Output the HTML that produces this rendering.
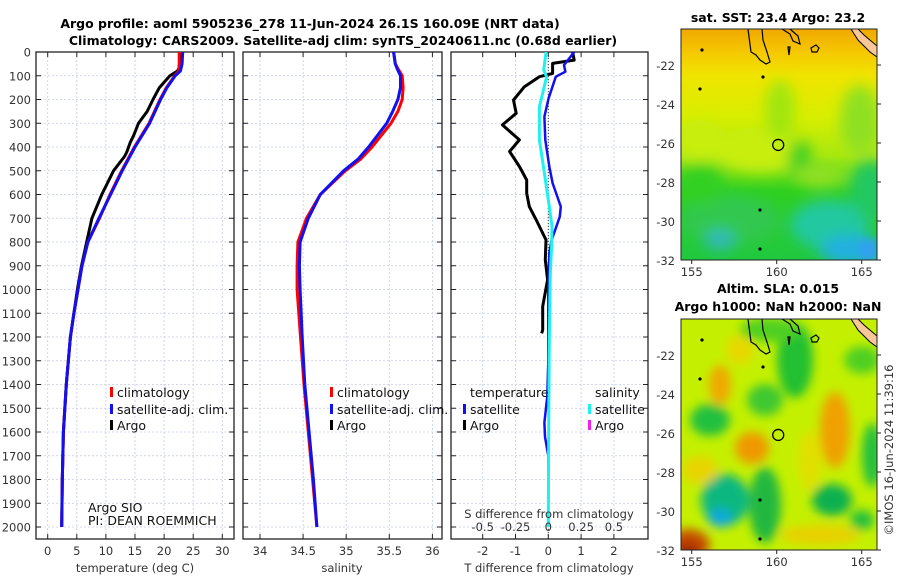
<!DOCTYPE html>
<html><head><meta charset="utf-8">
<style>
body{margin:0;background:#fff;}
svg text{font-family:"DejaVu Sans","Liberation Sans",sans-serif;}
.tk{font-size:11.5px;fill:#333;}
.tt{font-size:12.5px;font-weight:bold;fill:#000;}
.lg{font-size:12.5px;fill:#111;}
</style></head>
<body>
<svg id="fig" width="900" height="580" viewBox="0 0 900 580" xmlns="http://www.w3.org/2000/svg">
<defs>
<clipPath id="c1"><rect x="36" y="52" width="198" height="487"/></clipPath>
<clipPath id="c2"><rect x="243" y="52" width="199" height="487"/></clipPath>
<clipPath id="c3"><rect x="451" y="52" width="197" height="487"/></clipPath>
<clipPath id="cm1"><rect x="681" y="29" width="196" height="231"/></clipPath>
<clipPath id="cm2"><rect x="681" y="319" width="196" height="231"/></clipPath>
<filter id="bl" x="-50%" y="-50%" width="200%" height="200%"><feGaussianBlur stdDeviation="7"/></filter>
<filter id="bl3" x="-50%" y="-50%" width="200%" height="200%"><feGaussianBlur stdDeviation="5"/></filter>
<filter id="bl2" x="-50%" y="-50%" width="200%" height="200%"><feGaussianBlur stdDeviation="4"/></filter>
<linearGradient id="sstg" x1="0" y1="0" x2="0" y2="1">
<stop offset="0" stop-color="#f0a800"/><stop offset="0.1" stop-color="#f5c800"/><stop offset="0.2" stop-color="#f0e400"/>
<stop offset="0.38" stop-color="#d8ee00"/><stop offset="0.55" stop-color="#a8e810"/><stop offset="0.7" stop-color="#30d020"/><stop offset="1" stop-color="#20c840"/>
</linearGradient>
</defs>
<g id="titles">
<text class="tt" x="310" y="28" text-anchor="middle">Argo profile: aoml 5905236_278 11-Jun-2024 26.1S 160.09E (NRT data)</text>
<text class="tt" x="343" y="45" text-anchor="middle">Climatology: CARS2009. Satellite-adj clim: synTS_20240611.nc (0.68d earlier)</text>
</g>
<g id="panels"></g>
<g id="maps"></g>
<text x="893" y="450" class="tk" font-size="12.5" transform="rotate(-90 893 450)" text-anchor="middle">©IMOS 16-Jun-2024 11:39:16</text>
</svg>
<script>
// ---------- data ----------
const depthTicks=[0,100,200,300,400,500,600,700,800,900,1000,1100,1200,1300,1400,1500,1600,1700,1800,1900,2000];
const tempTicks=[0,5,10,15,20,25,30];
const salTicks=[34,34.5,35,35.5,36];
const tdTicks=[-2,-1,0,1,2];
const sdTickLabels=["-0.5","-0.25","0","0.25","0.5"];
const tDepth=[0,50,80,100,150,200,300,400,500,600,700,800,900,1000,1100,1200,1400,1600,1800,2000];
const tClim=[22.6,22.6,22.5,21.8,20.4,19.3,17.4,14.9,12.7,10.7,8.9,6.9,5.9,5.2,4.5,3.9,3.2,2.7,2.5,2.4];
const tSat=[23.2,23.1,22.8,21.9,20.5,19.4,17.5,15.0,12.8,10.8,8.8,6.9,5.9,5.2,4.5,3.9,3.2,2.7,2.5,2.4];
const argoDepth=[5,50,80,100,150,200,250,300,350,380,420,440,500,600,700,800,900,1000,1200,1400,1600,1800,2000];
const argoT=[23.0,22.9,22.3,21.0,19.2,18.1,17.1,15.6,14.8,14.2,13.6,13.2,11.3,9.3,7.6,6.7,5.8,5.1,3.9,3.2,2.7,2.5,2.4];
const sDepth=[0,50,70,100,150,200,250,300,400,450,500,600,700,800,900,1000,1200,1400,1600,1800,2000];
const sClim=[35.55,35.57,35.6,35.65,35.66,35.65,35.6,35.52,35.30,35.17,34.99,34.70,34.54,34.44,34.43,34.43,34.47,34.51,34.56,34.61,34.66];
const sSat=[35.55,35.57,35.59,35.63,35.63,35.6,35.54,35.47,35.26,35.14,34.97,34.70,34.56,34.465,34.457,34.465,34.49,34.52,34.57,34.62,34.66];
const dtDepth=[0,55,83,104,195,272,370,482,552,651,693,749,791,847,1000,1300,1450,1560,1620,1700,1800,2000];
const dtSat=[0.79,0.48,0.52,0.23,0.01,-0.12,-0.09,0.03,0.13,0.38,0.35,0.21,0.10,0.03,0.0,0.0,-0.03,-0.12,-0.1,0.0,0.0,0.0];
const dtArgoDepth=[0,34,48,90,104,146,202,258,307,370,419,482,539,595,651,707,791,875,959,1071,1170,1185];
const dtArgo=[0.74,0.79,0.13,0.13,-0.27,-0.73,-1.06,-0.98,-1.40,-0.88,-1.18,-0.88,-0.66,-0.66,-0.58,-0.37,-0.07,-0.09,-0.02,-0.17,-0.17,-0.2];
const dsDepth=[0,76,104,231,370,510,651,735,819,931,1211,1500,2000];
const dsSat=[-0.017,-0.035,-0.013,-0.068,-0.068,-0.03,0.008,0.028,0.025,0.015,0.008,0.004,0.0];
const latTicks=[-22,-24,-26,-28,-30,-32];
const lonTicks=[155,160,165];
const floatLon=160.09, floatLat=-26.1;

// ---------- scales ----------
const yD=d=>52+d*0.2375;
const xT=t=>47.7+t*5.82;
const xS=s=>260+(s-34)*86.2;
const xDT=d=>548.3+d*32.8;
const xDS=d=>548.3+d*131.2;
const NS='http://www.w3.org/2000/svg';
function mk(tag,attrs,parent){const e=document.createElementNS(NS,tag);for(const k in attrs)e.setAttribute(k,attrs[k]);parent.appendChild(e);return e;}
const panels=document.getElementById('panels');

function panel(x0,x1,name,xf,ticks,labels,clip){
  const g=mk('g',{},panels);
  
  
  mk('rect',{x:x0,y:52,width:x1-x0,height:487,fill:'#fff'},g);
  const grid=mk('g',{stroke:'#c4cbe8','stroke-width':0.8,'stroke-dasharray':'2,2'},g);
  
  
  depthTicks.forEach(d=>{mk('line',{x1:x0,x2:x1,y1:yD(d),y2:yD(d)},grid);
    mk('line',{x1:x0,x2:x0+5,y1:yD(d),y2:yD(d),stroke:'#222','stroke-dasharray':'none'},g);
    mk('line',{x1:x1-5,x2:x1,y1:yD(d),y2:yD(d),stroke:'#222','stroke-dasharray':'none'},g);});
  ticks.forEach((t,i)=>{const x=xf(t);mk('line',{x1:x,x2:x,y1:52,y2:539},grid);
    mk('line',{x1:x,x2:x,y1:539,y2:534,stroke:'#222'},g);mk('line',{x1:x,x2:x,y1:52,y2:57,stroke:'#222'},g);
    const tx=mk('text',{x:x,y:555,'text-anchor':'middle',class:'tk'},g);tx.textContent=labels[i];
    
    });
  mk('rect',{x:x0,y:52,width:x1-x0,height:487,fill:'none',stroke:'#222','stroke-width':1.3},g);
  return g;
}
function line(g,xs,ds,xf,color,w,clip,name){
  const pts=xs.map((v,i)=>xf(v).toFixed(1)+','+yD(ds[i]).toFixed(1)).join(' ');
  const p=mk('polyline',{points:pts,fill:'none',stroke:color,'stroke-width':w,'stroke-linejoin':'round','clip-path':'url(#'+clip+')'},g);
  
  
}
// panel 1
const g1=panel(36,234,'temperature-panel',xT,tempTicks,tempTicks.map(String),'c1');
depthTicks.forEach(d=>{const t=mk('text',{x:31,y:yD(d)+4.5,'text-anchor':'end',class:'tk'},g1);t.textContent=d;
  
  });
line(g1,argoT,argoDepth,xT,'#000',3,'c1','argo-temperature-line');
line(g1,tClim,tDepth,xT,'#f00',3,'c1','climatology-temperature-line');
line(g1,tSat,tDepth,xT,'#1010f0',3,'c1','satellite-temperature-line');
// panel 2
const g2=panel(243,442,'salinity-panel',xS,salTicks,["34","34.5","35","35.5","36"],'c2');
line(g2,sClim,sDepth,xS,'#f00',3,'c2','climatology-salinity-line');
line(g2,sSat,sDepth,xS,'#1010f0',3,'c2','satellite-salinity-line');
// panel 3
const g3=panel(451,648,'difference-panel',xDT,tdTicks,tdTicks.map(String),'c3');
mk('line',{x1:xDT(0),x2:xDT(0),y1:52,y2:539,stroke:'#333','stroke-width':1,'stroke-dasharray':'1,2'},g3);
line(g3,dtArgo,dtArgoDepth,xDT,'#000',3,'c3','argo-temperature-difference-line');
line(g3,dtSat,dtDepth,xDT,'#1010f0',2.5,'c3','satellite-temperature-difference-line');
line(g3,dsSat,dsDepth,xDS,'#20f0f0',3,'c3','satellite-salinity-difference-line');
sdTickLabels.forEach((l,i)=>{const v=[-0.5,-0.25,0,0.25,0.5][i];const t=mk('text',{x:xDS(v),y:531,'text-anchor':'middle',class:'tk'},g3);t.textContent=l;
  
  });
function txt(g,x,y,s,cls,name,anchor){const t=mk('text',{x:x,y:y,class:cls,'text-anchor':anchor||'start'},g);t.textContent=s;
  
  return t;}
txt(g3,549,518,'S difference from climatology','tk','s-difference-axis-title','middle').setAttribute('font-size','13');
txt(panels,135,572,'temperature (deg C)','tk','temperature-axis-title','middle').setAttribute('font-size','13.5');
txt(panels,342,572,'salinity','tk','salinity-axis-title','middle').setAttribute('font-size','13.5');
txt(panels,549,572,'T difference from climatology','tk','t-difference-axis-title','middle').setAttribute('font-size','13.5');
// legends
function leg(g,x,y,color,label,name){mk('rect',{x:x,y:y-10,width:3,height:10,fill:color},g);
  const t=txt(g,x+7,y,label,'lg',name);}
leg(g1,110,397,'#f00','climatology','legend-climatology');
leg(g1,110,414,'#1010f0','satellite-adj. clim.','legend-satellite-adj');
leg(g1,110,430,'#000','Argo','legend-argo');
leg(g2,330,397,'#f00','climatology','legend-climatology-s');
leg(g2,330,414,'#1010f0','satellite-adj. clim.','legend-satellite-adj-s');
leg(g2,330,430,'#000','Argo','legend-argo-s');
txt(g3,470,397,'temperature','lg','legend-temperature-header');
leg(g3,463,414,'#1010f0','satellite','legend-t-satellite');
leg(g3,463,430,'#000','Argo','legend-t-argo');
txt(g3,595,397,'salinity','lg','legend-salinity-header');
leg(g3,588,414,'#20f0f0','satellite','legend-s-satellite');
leg(g3,588,430,'#f020f0','Argo','legend-s-argo');
txt(g1,88,512,'Argo SIO','lg','argo-institution').setAttribute('font-size','10.5');
txt(g1,88,525,'PI: DEAN ROEMMICH','lg','argo-pi').setAttribute('font-size','10.5');

// ---------- maps ----------
const maps=document.getElementById('maps');
const xLon=l=>691.7+(l-155)*17;
function mapFrame(top,name){
  const g=mk('g',{},maps);
  
  
  const latY=l=>top+36+(-22-l)*19.5;
  return {g,latY};
}
// SST map
const m1=mapFrame(29,'sst-map');
const b1=mk('g',{'clip-path':'url(#cm1)'},m1.g);
mk('rect',{x:681,y:29,width:196,height:231,fill:'url(#sstg)'},b1);
const f1=mk('g',{filter:'url(#bl)'},b1);
[[760,150,45,22,'#c8ee10'],[700,140,25,20,'#c8ee10'],[860,120,20,35,'#90e020'],[730,220,50,25,'#30c850'],
 [830,225,40,25,'#20c8a0'],[850,250,30,15,'#20b0e0'],[720,240,15,10,'#30b8c0'],[780,110,15,30,'#a0e610'],
 [700,185,25,20,'#30d020'],[870,190,20,30,'#20c860'],[800,160,12,20,'#40d020'],[820,175,25,12,'#90e020']].forEach(e=>mk('ellipse',{cx:e[0],cy:e[1],rx:e[2],ry:e[3],fill:e[4]},f1));
mk('rect',{x:860,y:240,width:17,height:20,fill:'#30a0f0',filter:'url(#bl2)'},b1);
// SLA map
const m2=mapFrame(319,'sla-map');
const b2=mk('g',{'clip-path':'url(#cm2)'},m2.g);
mk('rect',{x:681,y:319,width:196,height:231,fill:'#c4f000'},b2);
const f2=mk('g',{filter:'url(#bl3)'},b2);
[[795,360,18,38,'#20c030'],[770,330,30,12,'#50d020'],[710,420,20,16,'#20c040'],[765,400,18,16,'#40c830'],
 [720,385,11,20,'#f0a800'],[752,448,17,16,'#f09800'],[835,430,15,38,'#f0a000'],[765,505,16,38,'#20b840'],
 [725,500,24,26,'#10b880'],[720,518,12,9,'#10a8e0'],[688,545,22,16,'#c85000'],[688,550,12,8,'#a02800'],
 [832,500,20,16,'#10b050'],[872,455,10,32,'#20c040'],[820,535,40,10,'#e8d000'],[862,520,12,10,'#20c040'],
 [700,470,18,14,'#e8d400'],[862,360,18,14,'#50d020'],[740,350,14,14,'#e8d800'],[810,460,12,30,'#e0e000']].forEach(e=>mk('ellipse',{cx:e[0],cy:e[1],rx:e[2],ry:e[3],fill:e[4]},f2));
// coasts, float marker, axes
[[m1,29,'sst'],[m2,319,'sla']].forEach(([m,top,n])=>{
  const g=m.g; const c=mk('g',{fill:'none',stroke:'#000','stroke-width':1.2,'clip-path':'url(#c'+(n==='sst'?'m1':'m2')+')'},g);
  
  
  const o=top-29;
  mk('path',{d:`M748 ${29+o} L751 ${52+o} L756 ${55+o} L760 ${60+o} L766 ${64+o} L770 ${62+o} L767 ${52+o} L763 ${40+o} L762 ${29+o}`},c);
  mk('path',{d:`M782 ${29+o} L790 ${34+o} L793 ${41+o} L800 ${44+o} L798 ${36+o} L790 ${29+o}`},c);
  mk('path',{d:`M811 ${48+o} l5 -3 l3 3 l-2 4 l-5 0 z`},c);
  mk('path',{d:`M788 ${47+o} l1 8 l1 -8 z`},c);
  mk('path',{d:`M851 ${29+o} L858 ${40+o} L870 ${52+o} L877 ${57+o} L877 ${46+o} L864 ${35+o} L858 ${29+o} Z`,fill:'#fac898',stroke:'#000','stroke-width':1},c);
  [[702,50],[763,77],[700,89],[760,210],[760,249]].forEach(p=>mk('circle',{cx:p[0],cy:p[1]+o,r:1.6,fill:'#000',stroke:'none'},c));
  const fc=mk('circle',{cx:xLon(floatLon),cy:m.latY(floatLat),r:5.5,fill:'none',stroke:'#000','stroke-width':1.3},g);
  
  
  mk('rect',{x:681,y:top,width:196,height:231,fill:'none',stroke:'#222','stroke-width':1},g);
  latTicks.forEach(l=>{const y=m.latY(l);mk('line',{x1:877,x2:881,y1:y,y2:y,stroke:'#222'},g);
    const t=mk('text',{x:675,y:y+5,'text-anchor':'end',class:'tk'},g);t.textContent=l;
    
    });
  lonTicks.forEach(l=>{const x=xLon(l);mk('line',{x1:x,x2:x,y1:top+231,y2:top+235,stroke:'#222'},g);
    const t=mk('text',{x:x,y:top+247,'text-anchor':'middle',class:'tk'},g);t.textContent=l;
    
    });
});
txt(m1.g,778,22,'sat. SST: 23.4 Argo: 23.2','tt','sst-map-title','middle');
txt(m2.g,778,293,'Altim. SLA: 0.015','tt','sla-map-title','middle');
txt(m2.g,778,311,'Argo h1000: NaN h2000: NaN','tt','sla-map-subtitle','middle');
</script>
</body></html>
